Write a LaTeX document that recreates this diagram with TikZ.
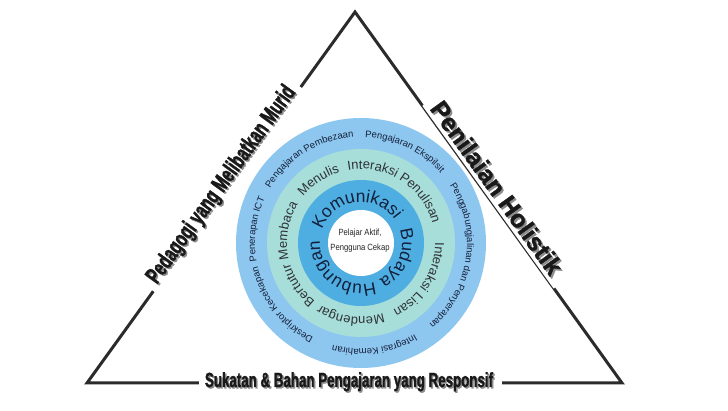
\documentclass[tikz,border=0pt]{standalone}
\usepackage{fontspec}
\setmainfont{Liberation Sans}
\newfontfamily\condbold[FakeStretch=0.65, FakeBold=1.2]{Liberation Sans Bold}
\newfontfamily\heavybold[FakeBold=1.4]{Liberation Sans Bold}
\newfontfamily\narrowfont[FakeStretch=0.85]{Liberation Sans}
\usetikzlibrary{calc, decorations.text}

\definecolor{ringout}{HTML}{8DC7F0}
\definecolor{ringmid}{HTML}{A8DEDA}
\definecolor{ringin}{HTML}{4EAEE2}
\definecolor{outtxt}{HTML}{16203A}
\definecolor{midtxt}{HTML}{2E3236}
\definecolor{intxt}{HTML}{12203C}
\definecolor{edgegray}{HTML}{2B2B2B}
\definecolor{shadowgray}{HTML}{8C8C8C}

% radius, centre angle, font size, colour, text
\newcommand{\ringlabel}[5]{%
	\path[decorate, decoration={text along path, text align=center, text color=#4,
		text={|\fontsize{#3}{#3}\selectfont|#5}}]
		(#2+85:#1) arc[start angle=#2+85, end angle=#2-85, radius=#1];}

\begin{document}
\begin{tikzpicture}[x=1pt, y=1pt,
		edge/.style={draw=edgegray, line width=3pt},
		titleshadow/.style={text=shadowgray, fill=white, inner xsep=7pt, inner ysep=4pt, anchor=base},
		titletext/.style={text=black!90, inner xsep=7pt, inner ysep=4pt, anchor=base},
		centre/.style={align=center, text=black!85, font=\narrowfont\fontsize{9}{15}\selectfont}]
	\useasboundingbox (0,0) rectangle (728,411);
	\coordinate (A) at (355,399);
	\coordinate (BL) at (87,28);
	\coordinate (BR) at (622,28);
	\draw[edge] (A) -- (BR) -- (BL) -- cycle;

	% rings
	\begin{scope}[shift={(361,168)}]
		\fill[ringout] (0,0) circle[radius=125];
		\fill[ringmid] (0,0) circle[radius=94];
		\fill[ringin] (0,0) circle[radius=63];
		\fill[white] (0,0) circle[radius=33];
		\ringlabel{106}{172.5}{9.5}{outtxt}{Penerapan ICT}
		\ringlabel{106}{121.5}{9.5}{outtxt}{Pengajaran Pembezaan}
		\ringlabel{106}{64.5}{9.5}{outtxt}{Pengajaran Ekspilsit}
		\ringlabel{106}{-8.5}{9.5}{outtxt}{Penggabungjalinan dan Penyerapan}
		\ringlabel{106}{-82.5}{9.5}{outtxt}{Integrasi Kemahiran}
		\ringlabel{106}{-142}{9.5}{outtxt}{Deskriptor Kecekapan}
		\ringlabel{74}{170.5}{13}{midtxt}{Membaca}
		\ringlabel{74}{124}{13}{midtxt}{Menulis}
		\ringlabel{74}{57.5}{13}{midtxt}{Interaksi Penulisan}
		\ringlabel{74}{-32}{13}{midtxt}{Interaksi Lisan}
		\ringlabel{74}{-98}{13}{midtxt}{Mendengar}
		\ringlabel{74}{-146}{13}{midtxt}{Bertutur}
		\ringlabel{41}{98}{17.5}{intxt}{Komunikasi}
		\ringlabel{41}{-22.5}{17.5}{intxt}{Budaya}
		\ringlabel{41}{-127}{17.5}{intxt}{Hubungan}
		\node[centre] (core) at (-1,2) {Pelajar Aktif,\\Pengguna Cekap};
	\end{scope}

	% sides
	\node[titleshadow, rotate=54.15, font=\condbold\fontsize{23.5}{24}\selectfont] (pedshadow)
		at ($(BL)!0.523!(A)+(-0.5,0.5)+(1.5,-1.5)$) {Pedagogi yang Melibatkan Murid};
	\node[titletext, rotate=54.15, font=\condbold\fontsize{23.5}{24}\selectfont] (ped)
		at ($(BL)!0.523!(A)+(-0.5,0.5)$) {Pedagogi yang Melibatkan Murid};
	\node[titleshadow, rotate=-54.3, font=\heavybold\fontsize{25}{26}\selectfont, inner xsep=9pt] (nilaishadow)
		at ($(A)!0.493!(BR)+(3,2)+(1.8,-1.8)$) {Penilaian Holistik};
	\node[titletext, rotate=-54.3, font=\heavybold\fontsize{25}{26}\selectfont, inner xsep=9pt] (nilai)
		at ($(A)!0.493!(BR)+(3,2)$) {Penilaian Holistik};
	\node[titleshadow, font=\condbold\fontsize{20.5}{21}\selectfont] (sukatanshadow)
		at ($(349,24)+(1.5,-1.5)$) {Sukatan \& Bahan Pengajaran yang Responsif};
	\node[titletext, font=\condbold\fontsize{20.5}{21}\selectfont] (sukatan)
		at (349,24) {Sukatan \& Bahan Pengajaran yang Responsif};
\end{tikzpicture}
\end{document}
